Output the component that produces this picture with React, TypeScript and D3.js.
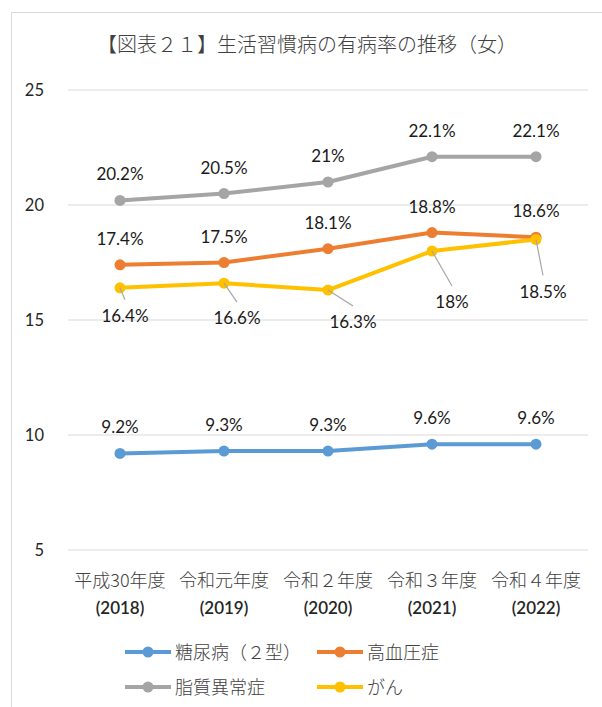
import React from "react";
import * as d3 from "d3";

const categoriesLine1 = ["平成30年度", "令和元年度", "令和２年度", "令和３年度", "令和４年度"];
const categoriesLine2 = ["(2018)", "(2019)", "(2020)", "(2021)", "(2022)"];
const seriesNames = ["糖尿病（２型）", "高血圧症", "脂質異常症", "がん"];
const diabetes = [9.2, 9.3, 9.3, 9.6, 9.6];
const hypertension = [17.4, 17.5, 18.1, 18.8, 18.6];
const dyslipidemia = [20.2, 20.5, 21, 22.1, 22.1];
const cancer = [16.4, 16.6, 16.3, 18, 18.5];
const yTicks = [5, 10, 15, 20, 25];

const colors = ["#5B9BD5", "#ED7D31", "#A5A5A5", "#FFC000"];
const allSeries = [diabetes, hypertension, dyslipidemia, cancer];

// label offsets (dx, dy) for cancer series with leader lines
const cancerLabelOffsets = [
  [5, 28],
  [13, 35],
  [25, 32],
  [20, 51],
  [7, 52],
];

const W = 602;
const H = 707;
const JP = "'Noto Sans CJK JP', sans-serif";
const NUM = "Lato, 'Noto Sans CJK JP', sans-serif";

export default function App() {
  const x = d3.scaleBand<number>().domain(d3.range(5)).range([68, 588]);
  const y = d3.scaleLinear().domain([5, 25]).range([550, 90]);
  const cx = (i: number) => (x(i) as number) + x.bandwidth() / 2;
  const line = d3
    .line<number>()
    .x((_, i) => cx(i))
    .y((d) => y(d));
  const fmt = (v: number) => `${v}%`;

  return (
    <svg
      width={W}
      height={H}
      style={{ position: "absolute", left: 0, top: 0, background: "#fff" }}
    >
      <rect x={0} y={0} width={W} height={H} fill="#fff" />
      <path d={`M11.5,${H} V12.5 H${W}`} fill="none" stroke="#d9d9d9" strokeWidth={1} />
      <text x={307} y={52} textAnchor="middle" fontFamily={JP} fontWeight={300} fontSize={20} fill="#404040">
        【図表２１】生活習慣病の有病率の推移（女）
      </text>
      {yTicks.map((t) => (
        <g key={t}>
          <line x1={68} x2={588} y1={y(t)} y2={y(t)} stroke="#d9d9d9" strokeWidth={1} />
          <text x={44} y={y(t) + 6} textAnchor="end" fontFamily={NUM} fontSize={16.5} fill="#262626">
            {t}
          </text>
        </g>
      ))}
      {categoriesLine1.map((c, i) => (
        <g key={c}>
          <text x={cx(i)} y={587} textAnchor="middle" fontFamily={JP} fontWeight={300} fontSize={18} fill="#404040">
            {c}
          </text>
          <text x={cx(i)} y={614} textAnchor="middle" fontFamily={NUM} fontSize={17} fontWeight={600} fill="#262626">
            {categoriesLine2[i]}
          </text>
        </g>
      ))}
      {allSeries.map((s, k) => (
        <g key={k}>
          <path d={line(s) as string} fill="none" stroke={colors[k]} strokeWidth={4} strokeLinejoin="round" />
          {s.map((v, i) => (
            <circle key={i} cx={cx(i)} cy={y(v)} r={5.5} fill={colors[k]} />
          ))}
        </g>
      ))}
      {[diabetes, hypertension, dyslipidemia].map((s, k) =>
        s.map((v, i) => (
          <text
            key={`${k}-${i}`}
            x={cx(i)}
            y={y(v) - 20}
            textAnchor="middle"
            fontFamily={NUM}
            fontSize={17}
            fill="#1a1a1a"
          >
            {fmt(v)}
          </text>
        ))
      )}
      {cancer.map((v, i) => {
        const [dx, dy] = cancerLabelOffsets[i];
        const px = cx(i);
        const py = y(v);
        return (
          <g key={`c${i}`}>
            <line x1={px} y1={py} x2={px + dx} y2={py + dy - 16} stroke="#a6a6a6" strokeWidth={1.2} />
            <text x={px + dx} y={py + dy + 6} textAnchor="middle" fontFamily={NUM} fontSize={17} fill="#1a1a1a">
              {fmt(v)}
            </text>
          </g>
        );
      })}
      {seriesNames.map((n, k) => {
        const lx = k % 2 === 0 ? 125 : 317;
        const ly = k < 2 ? 652 : 687;
        return (
          <g key={n}>
            <line x1={lx} x2={lx + 46} y1={ly} y2={ly} stroke={colors[k]} strokeWidth={4} />
            <circle cx={lx + 23} cy={ly} r={5.5} fill={colors[k]} />
            <text x={lx + 50} y={ly + 6.5} fontFamily={JP} fontWeight={300} fontSize={18} fill="#404040">
              {n}
            </text>
          </g>
        );
      })}
    </svg>
  );
}
